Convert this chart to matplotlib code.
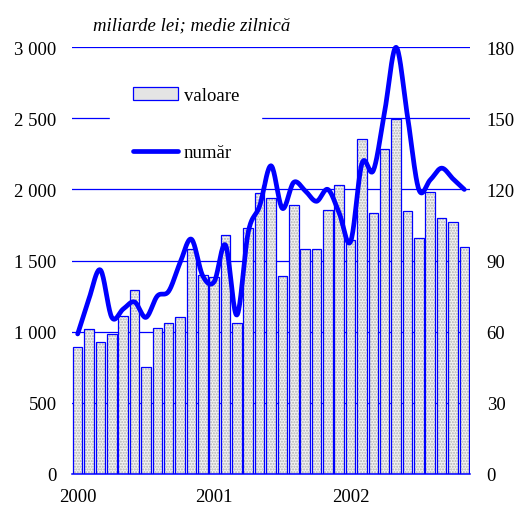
import numpy as np
import matplotlib
matplotlib.use('Agg')
import matplotlib.pyplot as plt
from matplotlib.patches import Patch
from matplotlib.lines import Line2D

plt.rcParams['font.family'] = ['Liberation Serif', 'DejaVu Serif']

# lunar, ian. 2000 - nov. 2002
valoare = [889, 1016, 927, 981, 1108, 1295, 748, 1023, 1060, 1100, 1581, 1395,
           1386, 1682, 1058, 1727, 1975, 1938, 1393, 1889, 1579, 1579, 1853, 2029,
           1642, 2353, 1837, 2283, 2496, 1846, 1656, 1985, 1797, 1769, 1593]
numar = [59, 74, 86, 66, 69.5, 72.5, 66, 75, 77, 89, 99, 83.5,
         81, 96.5, 67, 102, 113, 130, 112, 123, 119.5, 115, 120, 110,
         98, 131, 128, 153, 180, 151, 120, 124, 129, 124.5, 120]
ani = ['2000', '2001', '2002']
left_ticks = [0, 500, 1000, 1500, 2000, 2500, 3000]
left_labels = ['0', '500', '1 000', '1 500', '2 000', '2 500', '3 000']
right_ticks = [0, 30, 60, 90, 120, 150, 180]

BLUE = '#0000ff'


def smooth(x, y, n=20):
    # curba netezita tip Excel (Catmull-Rom)
    x = np.asarray(x, float)
    y = np.asarray(y, float)
    px = np.concatenate([[x[0]], x, [x[-1]]])
    py = np.concatenate([[y[0]], y, [y[-1]]])
    xs, ys = [], []
    t = np.linspace(0, 1, n, endpoint=False)
    for i in range(1, len(px) - 2):
        for p, out in ((px, xs), (py, ys)):
            p0, p1, p2, p3 = p[i - 1], p[i], p[i + 1], p[i + 2]
            out.extend(0.5 * (2 * p1 + (-p0 + p2) * t
                              + (2 * p0 - 5 * p1 + 4 * p2 - p3) * t ** 2
                              + (-p0 + 3 * p1 - 3 * p2 + p3) * t ** 3))
    xs.append(x[-1])
    ys.append(y[-1])
    return np.array(xs), np.array(ys)


fig = plt.figure(figsize=(5.15, 5.06), dpi=100)
ax = fig.add_axes([0.1398, 0.0618, 0.7728, 0.8427])
ax2 = ax.twinx()

x = np.arange(len(valoare))
ax.bar(x, valoare, width=0.84, facecolor='#f2f2f2', edgecolor='#b0b0b0',
       hatch='......', linewidth=0, zorder=2)
ax.bar(x, valoare, width=0.84, fill=False, edgecolor=BLUE, linewidth=0.9, zorder=3)

ax.set_ylim(0, 3000)
ax.set_xlim(-0.5, 34.5)
ax.set_yticks(left_ticks)
ax.set_yticklabels(left_labels)
ax.yaxis.grid(True, color=BLUE, linewidth=0.9)
ax.set_axisbelow(True)
ax.set_xticks([0, 12, 24])
ax.set_xticklabels(ani)

sx, sy = smooth(x, numar)
ax2.plot(sx, sy, color=BLUE, linewidth=3.4, solid_capstyle='round',
         solid_joinstyle='round', clip_on=False, zorder=5)
ax2.set_ylim(0, 180)
ax2.set_yticks(right_ticks)

for a in (ax, ax2):
    for s in ('left', 'right', 'top'):
        a.spines[s].set_visible(False)
    a.spines['bottom'].set_color(BLUE)
    a.spines['bottom'].set_linewidth(1.1)
ax2.spines['bottom'].set_visible(False)

ax.tick_params(axis='y', length=0, pad=11, labelsize=13.5)
ax.tick_params(axis='x', length=0, pad=10, labelsize=13.5)
ax2.tick_params(axis='y', length=0, pad=12, labelsize=13.5)

handles = [Patch(facecolor='#e4e4e4', edgecolor=BLUE, linewidth=0.9),
           Line2D([0], [0], color=BLUE, linewidth=3.4, solid_capstyle='round')]
leg = ax2.legend(handles, ['valoare', 'număr'], loc='upper left',
                 bbox_to_anchor=(0.0955, 0.960), frameon=True, fancybox=False,
                 borderpad=1.2, labelspacing=2.15, handlelength=2.45,
                 handleheight=0.65, handletextpad=0.27, fontsize=13.5,
                 borderaxespad=0)
leg.get_frame().set_facecolor('white')
leg.get_frame().set_edgecolor('white')
leg.get_frame().set_alpha(1)
leg.set_zorder(10)

fig.text(93 / 515, 1 - 26 / 506, 'miliarde lei; medie zilnică', fontsize=13.5,
         style='italic', va='center', ha='left')

fig.savefig('out.png', dpi=100)
